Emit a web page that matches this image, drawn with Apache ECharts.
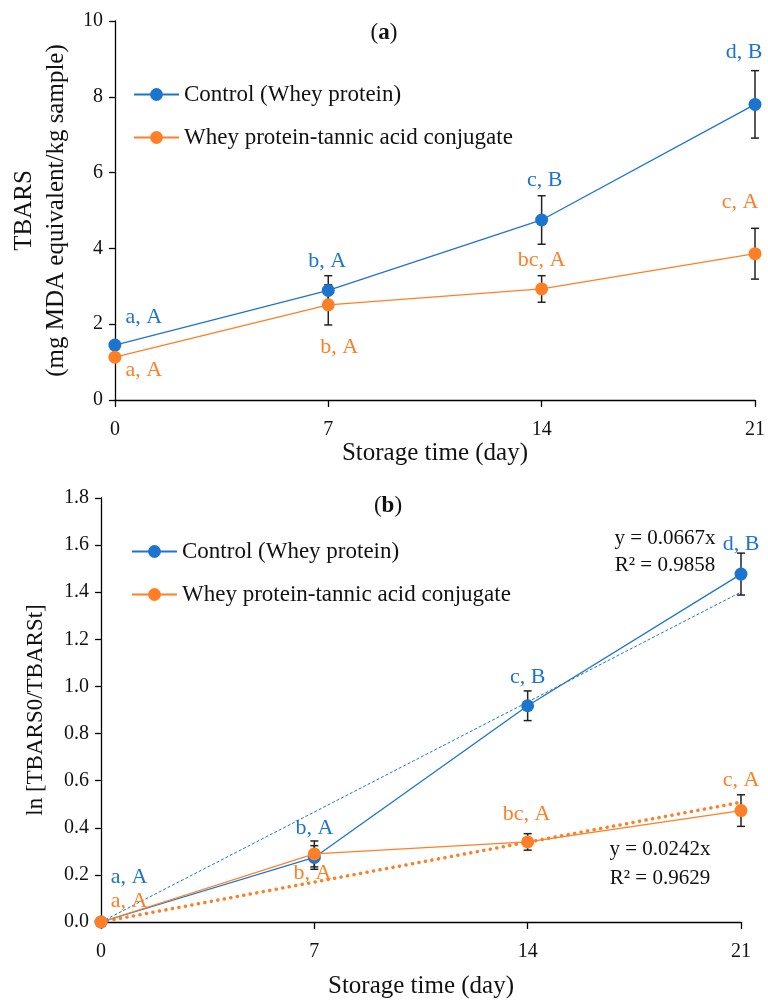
<!DOCTYPE html>
<html><head><meta charset="utf-8">
<script src="https://cdn.jsdelivr.net/npm/echarts@6/dist/echarts.min.js"></script>
<style>html,body{margin:0;padding:0;background:#fff}#c{width:768px;height:1003px}</style>
</head><body><div id="c"></div>
<script>
// ---------- data ----------
const days = [0, 7, 14, 21];
const seriesNames = ['Control (Whey protein)', 'Whey protein-tannic acid conjugate'];
// panel (a) TBARS
const tbarsControl = [1.45, 2.89, 4.75, 7.80];
const tbarsControlErr = [0, 0.39, 0.64, 0.89];
const tbarsConj = [1.13, 2.51, 2.93, 3.86];
const tbarsConjErr = [0, 0.53, 0.35, 0.67];
const tbarsControlLetters = ['a, A', 'b, A', 'c, B', 'd, B'];
const tbarsConjLetters = ['a, A', 'b, A', 'bc, A', 'c, A'];
// panel (b) ln[TBARS0/TBARSt]
const lnControl = [0, 0.274, 0.918, 1.477];
const lnControlErr = [0, 0.05, 0.063, 0.089];
const lnConj = [0, 0.289, 0.340, 0.473];
const lnConjErr = [0, 0.055, 0.035, 0.067];
const lnControlLetters = ['a, A', 'b, A', 'c, B', 'd, B'];
const lnConjLetters = ['a, A', 'b, A', 'bc, A', 'c, A'];
// linear trend lines (through origin)
const trendDays = [0, 21];
const trendControl = [0, 1.4007];
const trendConj = [0, 0.5082];
const eqControl = ['y = 0.0667x', 'R² = 0.9858'];
const eqConj = ['y = 0.0242x', 'R² = 0.9629'];

// ---------- style ----------
const BLUE = '#1B75CF';
const ORANGE = '#FF7F27';
const FONT = 'Liberation Serif';
const INK = '#111';

const chart = echarts.init(document.getElementById('c'), null, {renderer: 'canvas'});

function pairs(xs, ys) { return xs.map((x, i) => [x, ys[i]]); }
function errData(xs, ys, es) { return xs.map((x, i) => [x, ys[i], es[i]]); }

function errRender(params, api) {
  const x = api.value(0), y = api.value(1), e = api.value(2);
  if (!e) return null;
  const top = api.coord([x, y + e]);
  const bot = api.coord([x, y - e]);
  const w = 4;
  const style = {stroke: '#222', lineWidth: 1.5};
  return {type: 'group', children: [
    {type: 'line', shape: {x1: top[0], y1: top[1], x2: bot[0], y2: bot[1]}, style: style},
    {type: 'line', shape: {x1: top[0] - w, y1: top[1], x2: top[0] + w, y2: top[1]}, style: style},
    {type: 'line', shape: {x1: bot[0] - w, y1: bot[1], x2: bot[0] + w, y2: bot[1]}, style: style}
  ]};
}

function labeled(xs, ys, letters, offsets, color) {
  return xs.map((x, i) => ({
    value: [x, ys[i]],
    label: {show: true, position: 'inside', formatter: letters[i], offset: offsets[i],
            color: color, fontFamily: FONT, fontSize: 22}
  }));
}

const axisLine = {show: true, lineStyle: {color: '#000', width: 1.3}};
const axisTick = {show: true, inside: false, length: 6, lineStyle: {color: '#000', width: 1.3}};
const tickLabel = {color: INK, fontFamily: FONT, fontSize: 20};

function xAxis(gridIndex, nameGap) {
  return {
    type: 'value', gridIndex: gridIndex, min: 0, max: 21, interval: 7,
    name: 'Storage time (day)', nameLocation: 'middle', nameGap: nameGap,
    nameTextStyle: {color: INK, fontFamily: FONT, fontSize: 25},
    axisLine: axisLine, axisTick: Object.assign({}, axisTick, {length: 7}),
    axisLabel: Object.assign({}, tickLabel, {margin: 20}),
    splitLine: {show: false}
  };
}

const option = {
  animation: false,
  backgroundColor: '#fff',
  grid: [
    {left: 113, right: 10, top: 21, height: 379},
    {left: 101, right: 27, top: 498, height: 424}
  ],
  xAxis: [xAxis(0, 38), xAxis(1, 52)],
  yAxis: [
    {
      type: 'value', gridIndex: 0, min: 0, max: 10, interval: 2,
      name: 'TBARS\n(mg MDA equivalent/kg sample)', nameLocation: 'middle', nameGap: 38,
      nameTextStyle: {color: INK, fontFamily: FONT, fontSize: 25, lineHeight: 32},
      axisLine: axisLine, axisTick: axisTick,
      axisLabel: Object.assign({}, tickLabel, {margin: 12}),
      splitLine: {show: false}
    },
    {
      type: 'value', gridIndex: 1, min: 0, max: 1.8, interval: 0.2,
      name: 'ln [TBARS0/TBARSt]', nameLocation: 'middle', nameGap: 54,
      nameTextStyle: {color: INK, fontFamily: FONT, fontSize: 23},
      axisLine: axisLine, axisTick: axisTick,
      axisLabel: Object.assign({}, tickLabel, {margin: 12, formatter: v => v.toFixed(1)}),
      splitLine: {show: false}
    }
  ],
  legend: [
    {data: seriesNames, orient: 'vertical', left: 133, top: 83, padding: 0,
     itemWidth: 45, itemHeight: 16, itemGap: 20,
     textStyle: {color: INK, fontFamily: FONT, fontSize: 23}},
    {data: seriesNames, orient: 'vertical', left: 131, top: 540, padding: 0,
     itemWidth: 45, itemHeight: 16, itemGap: 20,
     textStyle: {color: INK, fontFamily: FONT, fontSize: 23}}
  ],
  graphic: [
    {type: 'text', left: 'center', x: 0, position: [400, 33],
     style: {text: '({b|a})', rich: {b: {fontWeight: 'bold', fontFamily: FONT, fontSize: 23, fill: INK}},
             fontFamily: FONT, fontSize: 23, fill: INK, align: 'center', verticalAlign: 'middle'}},
    {type: 'text', position: [388, 506],
     style: {text: '({b|b})', rich: {b: {fontWeight: 'bold', fontFamily: FONT, fontSize: 23, fill: INK}},
             fontFamily: FONT, fontSize: 23, fill: INK, align: 'center', verticalAlign: 'middle'}},
    {type: 'text', position: [665, 538],
     style: {text: eqControl[0], fontFamily: FONT, fontSize: 21, fill: INK, align: 'center', verticalAlign: 'middle'}},
    {type: 'text', position: [665, 565],
     style: {text: eqControl[1], fontFamily: FONT, fontSize: 21, fill: INK, align: 'center', verticalAlign: 'middle'}},
    {type: 'text', position: [660, 849],
     style: {text: eqConj[0], fontFamily: FONT, fontSize: 21, fill: INK, align: 'center', verticalAlign: 'middle'}},
    {type: 'text', position: [660, 878],
     style: {text: eqConj[1], fontFamily: FONT, fontSize: 21, fill: INK, align: 'center', verticalAlign: 'middle'}}
  ],
  series: [
    // panel (a)
    {type: 'custom', xAxisIndex: 0, yAxisIndex: 0, renderItem: errRender, clip: false,
     data: errData(days, tbarsControl, tbarsControlErr), silent: true},
    {type: 'custom', xAxisIndex: 0, yAxisIndex: 0, renderItem: errRender, clip: false,
     data: errData(days, tbarsConj, tbarsConjErr), silent: true},
    {type: 'line', name: seriesNames[0], xAxisIndex: 0, yAxisIndex: 0, clip: false,
     symbol: 'circle', symbolSize: 13, color: BLUE, lineStyle: {color: BLUE, width: 1.3},
     itemStyle: {color: BLUE},
     data: labeled(days, tbarsControl, tbarsControlLetters, [[29, -28], [-1, -29], [3, -40], [-11, -52]], BLUE)},
    {type: 'line', name: seriesNames[1], xAxisIndex: 0, yAxisIndex: 0, clip: false,
     symbol: 'circle', symbolSize: 13, color: ORANGE, lineStyle: {color: ORANGE, width: 1.3},
     itemStyle: {color: ORANGE},
     data: labeled(days, tbarsConj, tbarsConjLetters, [[29, 13], [11, 42], [0, -29], [-15, -51]], ORANGE)},
    // panel (b)
    {type: 'line', xAxisIndex: 1, yAxisIndex: 1, symbol: 'none', silent: true,
     lineStyle: {color: BLUE, width: 1, type: [3, 2]}, data: pairs(trendDays, trendControl)},
    {type: 'line', xAxisIndex: 1, yAxisIndex: 1, symbol: 'none', silent: true,
     lineStyle: {color: ORANGE, width: 3.5, type: [0.1, 6.5], cap: 'round'}, data: pairs(trendDays, trendConj)},
    {type: 'custom', xAxisIndex: 1, yAxisIndex: 1, renderItem: errRender, clip: false,
     data: errData(days, lnControl, lnControlErr), silent: true},
    {type: 'custom', xAxisIndex: 1, yAxisIndex: 1, renderItem: errRender, clip: false,
     data: errData(days, lnConj, lnConjErr), silent: true},
    {type: 'line', name: seriesNames[0], xAxisIndex: 1, yAxisIndex: 1, clip: false,
     symbol: 'circle', symbolSize: 13, color: BLUE, lineStyle: {color: BLUE, width: 1.3},
     itemStyle: {color: BLUE},
     data: labeled(days, lnControl, lnControlLetters, [[28, -45], [0, -29], [0, -29], [0, -30]], BLUE)},
    {type: 'line', name: seriesNames[1], xAxisIndex: 1, yAxisIndex: 1, clip: false,
     symbol: 'circle', symbolSize: 13, color: ORANGE, lineStyle: {color: ORANGE, width: 1.3},
     itemStyle: {color: ORANGE},
     data: labeled(days, lnConj, lnConjLetters, [[28, -21], [-2, 19], [-1, -28], [0, -30]], ORANGE)}
  ]
};
chart.setOption(option);
</script>
</body></html>
